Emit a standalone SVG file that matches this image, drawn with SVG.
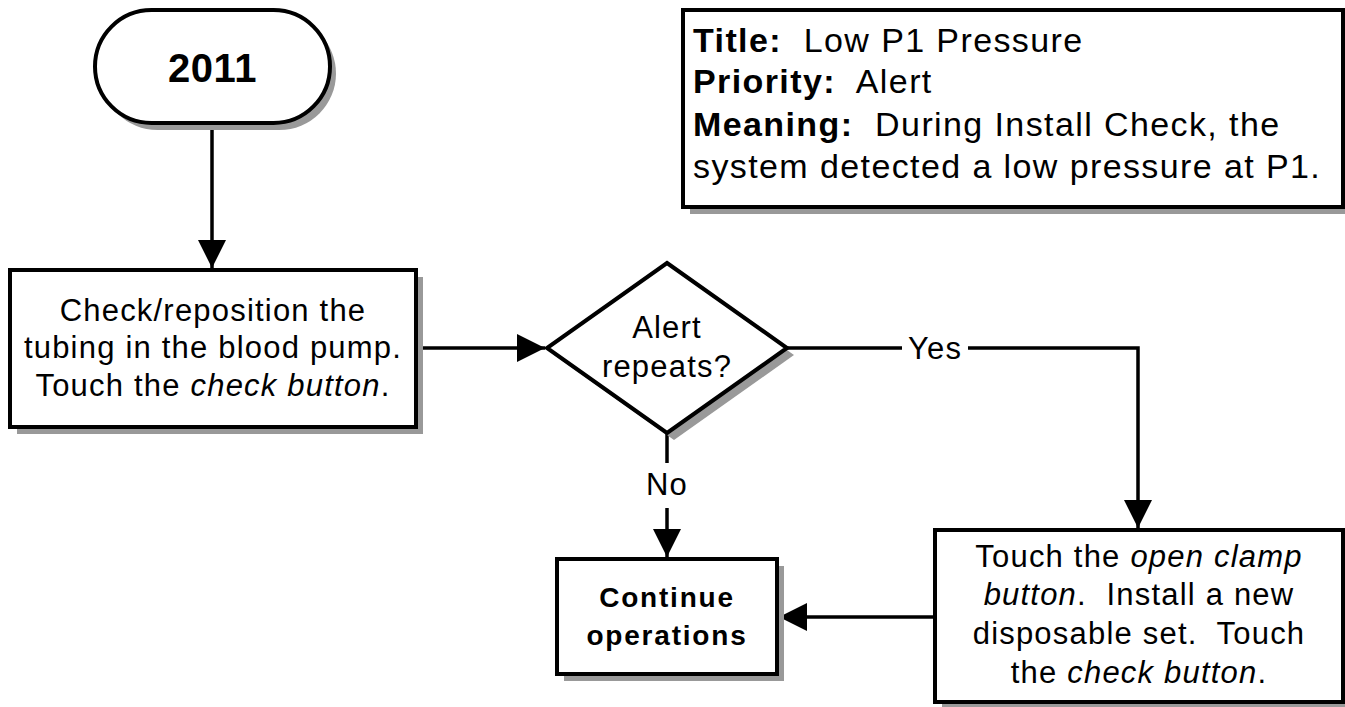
<svg xmlns="http://www.w3.org/2000/svg" width="1345" height="707" viewBox="0 0 1345 707" xml:space="preserve">
  <style>
    .shape { fill: #ffffff; stroke: #000000; stroke-width: 4; stroke-linejoin: miter; }
    .shadow { fill: #999999; stroke: none; }
    .txt { font-family: "Liberation Sans", Arial, sans-serif; font-size: 31px; letter-spacing: 1.2px; fill: #000000; white-space: pre; }
    .mid { text-anchor: middle; }
    .b { font-weight: bold; }
    .i { font-style: italic; }
    .wire { fill: none; stroke: #000000; stroke-width: 3.5; }
  </style>
  <defs>
    <marker id="arrow" markerUnits="userSpaceOnUse" markerWidth="30" markerHeight="28" refX="28" refY="14" orient="auto">
      <path d="M0,0 L28,14 L0,28 Z" fill="#000000"/>
    </marker>
  </defs>

  <rect width="1345" height="707" fill="#ffffff"/>

  <!-- connectors -->
  <g id="connectors">
    <path class="wire" d="M212,123 V268" marker-end="url(#arrow)"/>
    <path class="wire" d="M416,348 H545" marker-end="url(#arrow)"/>
    <path class="wire" d="M787,348 H1138 V528" marker-end="url(#arrow)"/>
    <path class="wire" d="M667,433 V557" marker-end="url(#arrow)"/>
    <path class="wire" d="M935,617 H779" marker-end="url(#arrow)"/>
    <g id="label-yes">
      <rect x="902" y="328" width="66" height="40" fill="#ffffff"/>
      <text class="txt mid" x="935" y="359">Yes</text>
    </g>
    <g id="label-no">
      <rect x="645" y="463" width="44" height="45" fill="#ffffff"/>
      <text class="txt mid" x="667" y="495">No</text>
    </g>
  </g>

  <!-- start terminal -->
  <g id="start">
    <rect class="shadow" x="101" y="17" width="235" height="113" rx="56.5"/>
    <rect class="shape" x="95" y="10" width="235" height="113" rx="56.5"/>
    <text class="txt mid b" x="212.5" y="82" style="font-size:40px;letter-spacing:0.5px">2011</text>
  </g>

  <!-- alarm information -->
  <g id="info">
    <rect class="shadow" x="690" y="17" width="660" height="197"/>
    <rect class="shape" x="683" y="10" width="660" height="197"/>
    <g class="txt" style="font-size:34px;letter-spacing:1.4px">
      <text x="693" y="52"><tspan class="b">Title:</tspan>&#160; Low P1 Pressure</text>
      <text x="693" y="93"><tspan class="b">Priority:</tspan>&#160; Alert</text>
      <text x="693" y="136"><tspan class="b">Meaning:</tspan>&#160; During Install Check, the</text>
      <text x="693" y="178">system detected a low pressure at P1.</text>
    </g>
  </g>

  <!-- step: reposition tubing -->
  <g id="reposition">
    <rect class="shadow" x="17" y="277" width="406" height="157"/>
    <rect class="shape" x="10" y="270" width="406" height="157"/>
    <text class="txt mid" x="213" y="321">Check/reposition the</text>
    <text class="txt mid" x="213" y="358">tubing in the blood pump.</text>
    <text class="txt mid" x="213" y="396">Touch the <tspan class="i">check button</tspan>.</text>
  </g>

  <!-- decision -->
  <g id="decision">
    <polygon class="shadow" points="674,270 794,355 674,440 554,355"/>
    <polygon class="shape" points="667,263 787,348 667,433 547,348"/>
    <text class="txt mid" x="667" y="338">Alert</text>
    <text class="txt mid" x="667" y="377">repeats?</text>
  </g>

  <!-- end: continue -->
  <g id="continue">
    <rect class="shadow" x="564" y="566" width="220" height="115"/>
    <rect class="shape" x="557" y="559" width="220" height="115"/>
    <text class="txt mid b" x="667" y="607" style="font-size:28px;letter-spacing:1.8px">Continue</text>
    <text class="txt mid b" x="667" y="645" style="font-size:28px;letter-spacing:1.8px">operations</text>
  </g>

  <!-- step: new disposable set -->
  <g id="replace-set">
    <rect class="shadow" x="942" y="537" width="408" height="172"/>
    <rect class="shape" x="935" y="530" width="408" height="172"/>
    <text class="txt mid" x="1139" y="567">Touch the <tspan class="i">open clamp</tspan></text>
    <text class="txt mid" x="1139" y="605"><tspan class="i">button</tspan>.&#160; Install a new</text>
    <text class="txt mid" x="1139" y="644">disposable set.&#160; Touch</text>
    <text class="txt mid" x="1139" y="683">the <tspan class="i">check button</tspan>.</text>
  </g>
</svg>
